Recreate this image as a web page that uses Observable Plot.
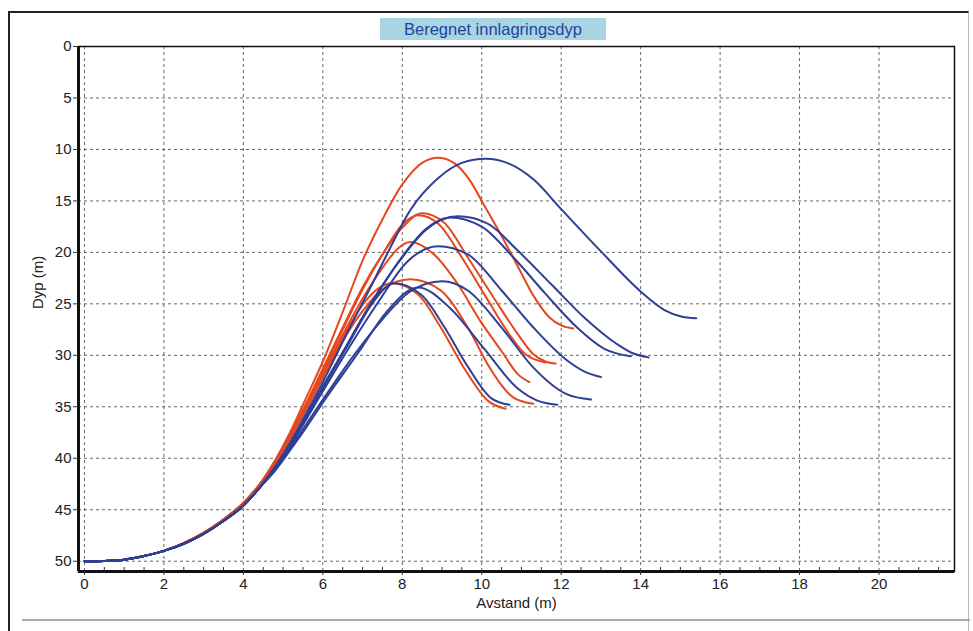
<!DOCTYPE html>
<html>
<head>
<meta charset="utf-8">
<script src="https://cdn.jsdelivr.net/npm/d3@7"></script>
<script src="https://cdn.jsdelivr.net/npm/@observablehq/plot@0.6"></script>
<style>
  html, body { margin: 0; padding: 0; background: #fff; }
  #wrap { position: relative; width: 973px; height: 631px; overflow: hidden; font-family: "Liberation Sans", Arial, sans-serif; }
  #outer { position: absolute; left: 8px; top: 11px; width: 961px; height: 640px; border-top: 2px solid #222; border-left: 2px solid #222; border-right: 1px solid #bbb; box-sizing: border-box; }
  #bottomline { position: absolute; left: 22px; top: 619px; width: 948px; height: 0; border-top: 2px solid #aaa; }
  #title { position: absolute; left: 380px; top: 18px; width: 226px; height: 22px; background: #a9d4e4; color: #21449a; font-size: 16.5px; line-height: 22px; text-align: center; }
  #chart { position: absolute; left: 0; top: 0; }
  #chart svg { overflow: visible; }
</style>
</head>
<body>
<div id="wrap">
  <div id="outer"></div>
  <div id="bottomline"></div>
  <div id="chart"></div>
  <div id="title">Beregnet innlagringsdyp</div>
</div>
<script>
// Axis ticks
const xTicks = [0, 2, 4, 6, 8, 10, 12, 14, 16, 18, 20];
const xMinor = [0.5, 1, 1.5, 2.5, 3, 3.5, 4.5, 5, 5.5, 6.5, 7, 7.5, 8.5, 9, 9.5, 10.5, 11, 11.5, 12.5, 13, 13.5, 14.5, 15, 15.5, 16.5, 17, 17.5, 18.5, 19, 19.5, 20.5, 21, 21.5];
const yTicks = [0, 5, 10, 15, 20, 25, 30, 35, 40, 45, 50];

// Series: [Avstand (m), Dyp (m)]
const red1 = [[0,50],[0.5,49.97],[1,49.85],[1.5,49.5],[2,49],[2.5,48.25],[3,47.25],[3.5,45.95],[4,44.35],[4.4,42.6],[4.8,40.2],[5.2,37.3],[5.5,34.8],[6.0,30.6],[6.5,25.8],[7.0,20.8],[7.5,16.8],[8.0,13.4],[8.5,11.3],[8.9,10.8],[9.3,11.3],[9.7,13],[10.1,15.7],[10.5,18.4],[10.9,21.3],[11.3,24.2],[11.7,26.3],[12.0,27.1],[12.3,27.4]];
const red2 = [[0,50],[0.5,49.97],[1,49.85],[1.5,49.5],[2,49],[2.5,48.25],[3,47.25],[3.5,45.95],[4,44.35],[4.4,42.6],[4.8,40.3],[5.2,37.5],[5.6,34.5],[6.0,31.3],[6.5,27.3],[7.0,23.4],[7.5,20.2],[8.0,17.6],[8.5,16.2],[9.05,17.1],[9.65,20.5],[10.3,24.4],[10.9,27.9],[11.3,29.9],[11.6,30.6],[11.86,30.8]];
const red3 = [[0,50],[0.5,49.97],[1,49.85],[1.5,49.5],[2,49],[2.5,48.25],[3,47.25],[3.5,45.95],[4,44.35],[4.4,42.6],[4.8,40.3],[5.2,37.6],[5.6,34.7],[6.0,31.6],[6.5,27.5],[7.0,23.6],[7.5,20.2],[8.0,17.3],[8.4,16.4],[8.9,17.2],[9.5,20.5],[10.1,24.3],[10.7,28],[11.1,29.9],[11.6,30.7]];
const red4 = [[0,50],[0.5,49.97],[1,49.85],[1.5,49.5],[2,49],[2.5,48.25],[3,47.25],[3.5,45.95],[4,44.35],[4.4,42.6],[4.8,40.4],[5.2,37.7],[5.6,34.8],[6.0,31.8],[6.5,28.0],[7.0,24.5],[7.5,21.5],[7.9,19.6],[8.2,19],[8.8,20.2],[9.4,23.1],[9.97,26.7],[10.5,29.6],[10.9,31.8],[11.2,32.6]];
const red5 = [[0,50],[0.5,49.97],[1,49.85],[1.5,49.5],[2,49],[2.5,48.25],[3,47.25],[3.5,45.95],[4,44.35],[4.4,42.6],[4.8,40.5],[5.2,37.9],[5.6,35.1],[6.0,32.2],[6.5,28.6],[7.0,25.7],[7.5,23.6],[8.2,22.6],[8.97,23.7],[9.65,27.3],[10.2,31.2],[10.8,34.1],[11.3,34.7]];
const red6 = [[0,50],[0.5,49.97],[1,49.85],[1.5,49.5],[2,49],[2.5,48.25],[3,47.25],[3.5,45.95],[4,44.35],[4.4,42.6],[4.8,40.4],[5.2,37.8],[5.6,34.9],[6.0,31.9],[6.5,28.3],[7.0,25.1],[7.4,23.5],[7.75,23],[8.4,24.1],[8.97,27.3],[9.55,31.2],[10.15,34.4],[10.6,35.2]];

const blue1 = [[0,50],[0.5,49.97],[1,49.85],[1.5,49.5],[2,49],[2.5,48.3],[3,47.35],[3.5,46.1],[4,44.6],[4.4,42.9],[4.8,40.8],[5.2,38.3],[5.6,35.5],[6.0,32.6],[6.6,27.9],[7.2,23.4],[7.6,20.3],[8.2,15.9],[8.9,12.8],[9.5,11.3],[10.1,10.9],[10.7,11.4],[11.3,12.9],[12,15.8],[13,19.9],[14,23.8],[14.6,25.6],[15,26.2],[15.4,26.4]];
const blue2 = [[0,50],[0.5,49.97],[1,49.85],[1.5,49.5],[2,49],[2.5,48.3],[3,47.35],[3.5,46.1],[4,44.6],[4.4,42.9],[4.8,40.9],[5.2,38.5],[5.6,35.8],[6.0,33.1],[6.5,29.7],[7.2,25],[7.9,21],[8.6,17.8],[9.4,16.5],[10.15,17.2],[10.9,19.8],[11.75,23.1],[12.6,26.4],[13.4,28.9],[13.8,29.8],[14.2,30.2]];
const blue3 = [[0,50],[0.5,49.97],[1,49.85],[1.5,49.5],[2,49],[2.5,48.3],[3,47.35],[3.5,46.1],[4,44.6],[4.4,42.9],[4.8,40.9],[5.2,38.5],[5.6,35.8],[6.0,33.0],[6.6,29.1],[7.3,24.5],[8,20.4],[8.6,17.7],[9.2,16.6],[10,17.5],[10.8,20.5],[11.6,24],[12.4,27.3],[13.1,29.4],[13.75,30.1]];
const blue4 = [[0,50],[0.5,49.97],[1,49.85],[1.5,49.5],[2,49],[2.5,48.3],[3,47.35],[3.5,46.1],[4,44.6],[4.4,42.9],[4.8,41.0],[5.2,38.7],[5.6,36.1],[6.0,33.5],[6.7,29.0],[7.4,24.8],[8.1,21],[8.9,19.4],[9.65,20.2],[10.5,23.7],[11.3,27.3],[12.15,30.5],[12.6,31.6],[13,32.1]];
const blue5 = [[0,50],[0.5,49.97],[1,49.85],[1.5,49.5],[2,49],[2.5,48.3],[3,47.35],[3.5,46.1],[4,44.6],[4.4,42.9],[4.8,41.1],[5.2,38.9],[5.6,36.6],[6.0,34.3],[6.8,29.9],[7.5,26.5],[8.2,23.8],[9,22.8],[9.65,23.7],[10.5,27.3],[11.3,31.2],[12.15,33.8],[12.75,34.3]];
const blue6 = [[0,50],[0.5,49.97],[1,49.85],[1.5,49.5],[2,49],[2.5,48.3],[3,47.35],[3.5,46.1],[4,44.6],[4.4,42.9],[4.8,40.9],[5.2,38.5],[5.6,35.9],[6.0,33.2],[6.6,29.2],[7.2,25.2],[7.8,23],[8.5,24.2],[9.05,27.2],[9.65,31.1],[10.25,34.2],[10.7,34.8]];
const blue7 = [[0,50],[0.5,49.97],[1,49.85],[1.5,49.5],[2,49],[2.5,48.3],[3,47.35],[3.5,46.1],[4,44.6],[4.4,42.9],[4.8,41.2],[5.2,39.1],[5.6,36.9],[6.0,34.6],[6.9,29.7],[7.6,25.8],[8.4,23.4],[9.2,25.4],[10.05,29.3],[10.9,33.2],[11.4,34.4],[11.9,34.8]];

const redSeries = [red1, red2, red3, red4, red5, red6];
const blueSeries = [blue1, blue2, blue3, blue4, blue5, blue6, blue7];
const RED = "#e5481e";
const BLUE = "#2f3f95";

const lineMark = (data, color) => Plot.line(data, {
  x: d => d[0], y: d => d[1], stroke: color, strokeWidth: 2, curve: "monotone-x"
});

const chart = Plot.plot({
  width: 973,
  height: 631,
  marginTop: 46,
  marginLeft: 78,
  marginRight: 19,
  marginBottom: 60,
  style: { fontFamily: "Liberation Sans, Arial, sans-serif", fontSize: "15px", color: "#222", background: "transparent" },
  x: { domain: [-0.15, 21.9] },
  y: { domain: [0, 51], reverse: true },
  marks: [
    Plot.gridX(xTicks, { stroke: "#555", strokeOpacity: 0.9, strokeDasharray: "3,3" }),
    Plot.gridY(yTicks, { stroke: "#555", strokeOpacity: 0.9, strokeDasharray: "3,3" }),
    ...redSeries.map(s => lineMark(s, RED)),
    ...blueSeries.map(s => lineMark(s, BLUE)),
    Plot.frame({ stroke: "#111", strokeWidth: 1.5 }),
    Plot.ruleX([-0.15], { stroke: "#111", strokeWidth: 3 }),
    Plot.ruleY([51], { stroke: "#111", strokeWidth: 3 }),
    Plot.axisX(xMinor, { tickSize: -4, text: null, stroke: "#333" }),
    Plot.axisX(xTicks, { tickSize: 4, tickPadding: 3, fontSize: 15, label: null, stroke: "#333" }),
    Plot.axisY(yTicks, { tickSize: 5, tickPadding: 2, fontSize: 15, label: null, stroke: "#333" }),
    Plot.text(["Avstand (m)"], { frameAnchor: "bottom", dy: 36, fontSize: 15, fill: "#222" }),
    Plot.text(["Dyp (m)"], { frameAnchor: "left", dx: -40, rotate: -90, fontSize: 15, fill: "#222" })
  ]
});
document.getElementById("chart").append(chart);
</script>
</body>
</html>
